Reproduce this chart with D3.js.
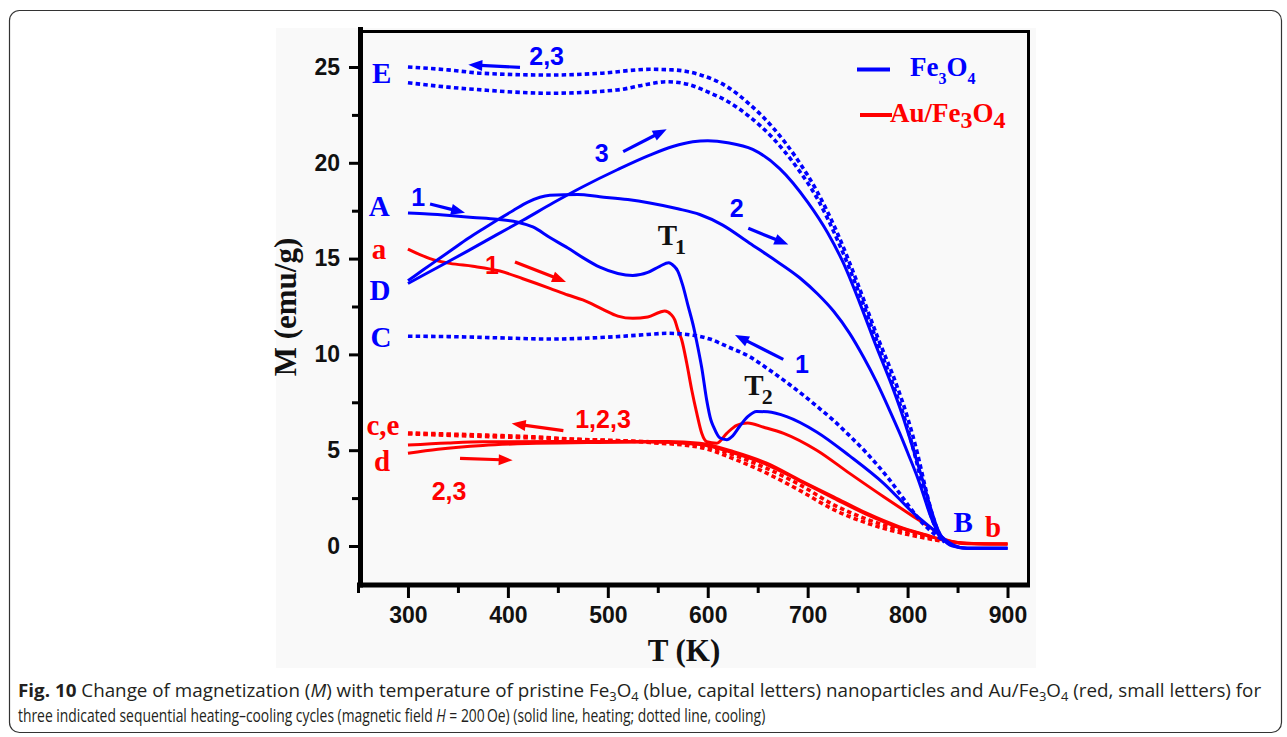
<!DOCTYPE html>
<html>
<head>
<meta charset="utf-8">
<script src="https://cdn.jsdelivr.net/npm/d3@7/dist/d3.min.js"></script>
<style>
  body { margin: 0; background: #ffffff; }
  svg { display: block; }
</style>
</head>
<body>
<svg id="chart" width="1287" height="737"></svg>
<script>
// ---- Magnetization M (emu/g) versus temperature T (K), [T, M] pairs ----
// Fe3O4, cycle 1 heating (A -> T1 -> T2 -> B)
const feHeat1 = [[300,17.38],[320,17.33],[342,17.25],[365,17.15],[389,17.05],[410,16.9],[425,16.65],[442,16.1],
  [460,15.55],[475,15.05],[492,14.55],[510,14.22],[525,14.12],[540,14.28],[552,14.6],[561,14.78],[566,14.62],
  [570,14.35],[575,13.6],[580,12.6],[586,11.4],[590,10.4],[594,9.3],[599,7.6],[603,6.6],[606,6.2],[612,5.65],
  [619,5.55],[625,5.75],[632,6.25],[640,6.75],[649,7.02],[660,7.0],[679,6.75],[709,5.95],[742,4.7],[776,3.27],
  [806,1.71],[826,0.84],[836,0.4],[846,0.05],[859,-0.12],[900,-0.12]];
// Fe3O4, cycle 1 cooling (B -> C)
const feCool1 = [[300,10.95],[350,10.92],[400,10.85],[442,10.8],[500,10.9],[530,11.0],[560,11.1],[585,11.0],
  [602,10.8],[620,10.4],[642,9.88],[660,9.25],[680,8.5],[695,7.9],[709,7.3],[726,6.55],[740,5.85],[759,4.85],
  [782,3.45],[799,2.25],[812,1.36],[826,0.66],[834,0.35]];
// Fe3O4, cycle 2 heating (D -> B)
const feHeat2 = [[300,13.85],[315,14.4],[330,14.95],[345,15.5],[360,16.05],[375,16.55],[389,17.0],[405,17.5],
  [420,17.95],[442,18.3],[470,18.35],[492,18.23],[520,18.08],[542,17.9],[570,17.6],[592,17.3],[615,16.75],
  [642,15.8],[665,15.0],[692,14.0],[710,13.15],[726,12.25],[742,11.1],[756,9.85],[769,8.55],[781,7.2],[792,5.9],
  [801,4.75],[809,3.7],[816,2.65],[822,1.7],[828,0.95],[833,0.5],[840,0.15],[850,-0.05],[860,-0.12],[900,-0.12]];
// Fe3O4, cycle 3 heating (D -> B)
const feHeat3 = [[300,13.7],[330,14.55],[360,15.4],[389,16.25],[415,17.0],[445,17.9],[475,18.75],[510,19.65],
  [542,20.4],[565,20.85],[585,21.1],[600,21.15],[620,21.05],[645,20.7],[672,19.7],[700,17.95],[720,16.35],
  [735,14.85],[752,12.7],[768,10.5],[784,8.4],[795,6.8],[805,5.15],[815,3.45],[823,2.0],[830,0.9],[836,0.35],
  [845,0.0],[860,-0.12],[900,-0.12]];
// Fe3O4, cycles 2 and 3 cooling (B -> E)
const feCool2 = [[300,25.0],[340,24.85],[375,24.67],[442,24.58],[492,24.67],[542,24.88],[565,24.85],[592,24.6],
  [620,23.95],[642,23.05],[665,21.85],[690,20.15],[710,18.45],[730,16.3],[750,13.7],[770,10.9],[789,8.4],
  [800,6.7],[810,4.8],[818,3.0],[825,1.6],[832,0.6],[838,0.2]];
const feCool3 = [[300,24.18],[340,23.95],[375,23.8],[442,23.63],[509,23.8],[540,24.1],[559,24.23],[580,24.1],
  [600,23.7],[620,23.2],[642,22.4],[665,21.3],[690,19.7],[710,18.1],[730,15.95],[750,13.4],[770,10.6],
  [787,8.2],[798,6.5],[808,4.6],[816,2.9],[824,1.5],[831,0.6],[837,0.2]];

// Au/Fe3O4, cycle 1 heating (a -> b)
const auHeat1 = [[300,15.5],[322,15.0],[342,14.75],[365,14.6],[392,14.35],[415,13.95],[442,13.45],[460,13.1],
  [475,12.84],[495,12.35],[510,12.0],[525,11.88],[540,11.95],[552,12.2],[557,12.27],[563,12.1],[567,11.8],
  [570,11.3],[574,10.75],[579,9.54],[584,8.14],[589,6.93],[594,5.88],[599,5.44],[609,5.36],[619,5.88],
  [629,6.3],[640,6.42],[656,6.2],[676,5.88],[709,5.0],[742,3.79],[776,2.57],[806,1.53],[826,0.84],[839,0.31],
  [859,0.14],[900,0.1]];
// Au/Fe3O4, cooling for cycles 1, 2, 3 (b -> c,e)
const auCool1 = [[300,5.9],[375,5.79],[425,5.7],[475,5.55],[542,5.44],[592,5.27],[626,4.75],[659,4.05],
  [692,3.2],[726,2.15],[759,1.4],[792,0.85],[819,0.5],[832,0.3]];
const auCool23 = [[300,5.85],[375,5.72],[450,5.6],[542,5.4],[592,5.15],[626,4.55],[659,3.8],[692,2.9],
  [726,1.9],[759,1.2],[792,0.7],[819,0.4],[834,0.25]];
// Au/Fe3O4, cycles 2 and 3 heating (d -> b)
const auHeat2 = [[300,5.27],[340,5.38],[375,5.44],[450,5.45],[520,5.45],[560,5.45],[592,5.36],[626,4.92],
  [659,4.32],[692,3.44],[726,2.57],[759,1.71],[792,1.0],[819,0.57],[836,0.31],[850,0.18],[870,0.12],[900,0.1]];
const auHeat3 = [[300,4.84],[330,5.05],[375,5.25],[420,5.35],[480,5.4],[540,5.43],[592,5.3],[626,4.85],
  [659,4.25],[692,3.4],[726,2.5],[759,1.65],[792,0.95],[819,0.55],[836,0.3],[860,0.12],[900,0.1]];

// Axis ticks
const xMajorTicks = [300, 400, 500, 600, 700, 800, 900];
const xMinorTicks = [250, 350, 450, 550, 650, 750, 850];
const yMajorTicks = [0, 5, 10, 15, 20, 25];
const yMinorTicks = [2.5, 7.5, 12.5, 17.5, 22.5];

const BLUE = "#0000ff";
const RED = "#ff0000";

const svg = d3.select("#chart");

// card and figure panel
svg.append("rect").attr("x", 9.5).attr("y", 10.5).attr("width", 1272).attr("height", 722)
  .attr("rx", 10).attr("fill", "#ffffff").attr("stroke", "#333333").attr("stroke-width", 1.2);
svg.append("rect").attr("x", 276).attr("y", 28).attr("width", 760).attr("height", 640).attr("fill", "#f9f9f9");

const x = d3.scaleLinear().domain([250, 920]).range([358, 1027.5]);
const y = d3.scaleLinear().domain([-2, 26.9]).range([584.3, 30.6]);

// plot frame: thin top/right, heavy left/bottom axes
const frame = svg.append("g").attr("stroke", "#000").attr("fill", "none");
frame.append("line").attr("x1", 359).attr("x2", 1029).attr("y1", 31.5).attr("y2", 31.5).attr("stroke-width", 3);
frame.append("line").attr("x1", 1028.5).attr("x2", 1028.5).attr("y1", 30).attr("y2", 586).attr("stroke-width", 3);

const tickFont = "'Liberation Sans', Arial, sans-serif";

// y axis
const gyMaj = svg.append("g").attr("transform", "translate(358,0)")
  .call(d3.axisLeft(y).tickValues(yMajorTicks).tickSize(9).tickSizeOuter(0).tickPadding(9).tickFormat(d3.format("d")));
const gyMin = svg.append("g").attr("transform", "translate(358,0)")
  .call(d3.axisLeft(y).tickValues(yMinorTicks).tickSize(6).tickSizeOuter(0).tickFormat(""));
// x axis
const gxMaj = svg.append("g").attr("transform", "translate(0,587)")
  .call(d3.axisBottom(x).tickValues(xMajorTicks).tickSize(11).tickSizeOuter(0).tickPadding(9).tickFormat(d3.format("d")));
const gxMin = svg.append("g").attr("transform", "translate(0,587)")
  .call(d3.axisBottom(x).tickValues(xMinorTicks).tickSize(6).tickSizeOuter(0).tickFormat(""));

[gyMaj, gyMin, gxMaj, gxMin].forEach(g => {
  g.select(".domain").remove();
  g.selectAll(".tick line").attr("stroke", "#000").attr("stroke-width", 3);
  g.selectAll(".tick text").attr("fill", "#111").attr("font-family", tickFont)
    .attr("font-weight", "bold").attr("font-size", 23);
});

frame.append("line").attr("x1", 360.5).attr("x2", 360.5).attr("y1", 27).attr("y2", 587.5).attr("stroke-width", 5);
frame.append("line").attr("x1", 357).attr("x2", 1030).attr("y1", 585).attr("y2", 585).attr("stroke-width", 5);

// axis titles
const serif = "'Liberation Serif', 'Times New Roman', serif";
svg.append("text").attr("x", 684).attr("y", 661).attr("text-anchor", "middle")
  .attr("font-family", serif).attr("font-weight", "bold").attr("font-size", 31).attr("fill", "#111").text("T (K)");
svg.append("text").attr("transform", "translate(296,307) rotate(-90)").attr("text-anchor", "middle")
  .attr("font-family", serif).attr("font-weight", "bold").attr("font-size", 31).attr("fill", "#111").text("M (emu/g)");

// ---- curves ----
const line = d3.line().x(d => x(d[0])).y(d => y(d[1])).curve(d3.curveMonotoneX);
const series = [
  { data: auCool23, color: RED, dotted: true },
  { data: auCool1, color: RED, dotted: true },
  { data: auHeat3, color: RED, dotted: false },
  { data: auHeat2, color: RED, dotted: false },
  { data: auHeat1, color: RED, dotted: false },
  { data: feCool1, color: BLUE, dotted: true },
  { data: feCool3, color: BLUE, dotted: true },
  { data: feCool2, color: BLUE, dotted: true },
  { data: feHeat2, color: BLUE, dotted: false },
  { data: feHeat3, color: BLUE, dotted: false },
  { data: feHeat1, color: BLUE, dotted: false }
];
const plot = svg.append("g");
plot.selectAll("path.curve").data(series).join("path").attr("class", "curve")
  .attr("d", d => line(d.data))
  .attr("fill", "none")
  .attr("stroke", d => d.color)
  .attr("stroke-width", d => d.dotted ? 3.6 : 3)
  .attr("stroke-dasharray", d => d.dotted ? "4.5 3.2" : null)
  .attr("stroke-linejoin", "round");

// ---- annotations (placed in data coordinates) ----
const letterLabels = [
  { t: "E", T: 273.7, M: 24.17, c: BLUE }, { t: "A", T: 271.3, M: 17.22, c: BLUE },
  { t: "D", T: 272, M: 12.84, c: BLUE }, { t: "C", T: 273, M: 10.39, c: BLUE },
  { t: "a", T: 271, M: 14.98, c: RED }, { t: "c,e", T: 275, M: 5.79, c: RED },
  { t: "d", T: 274, M: 3.91, c: RED }, { t: "B", T: 855.5, M: 0.75, c: BLUE },
  { t: "b", T: 885.5, M: 0.48, c: RED }
];
svg.append("g").selectAll("text").data(letterLabels).join("text")
  .attr("x", d => x(d.T)).attr("y", d => y(d.M)).attr("text-anchor", "middle")
  .attr("font-family", serif).attr("font-weight", "bold").attr("font-size", 29)
  .attr("fill", d => d.c).text(d => d.t);

const cycleLabels = [
  { t: "2,3", T: 438.8, M: 25.08, c: BLUE }, { t: "1", T: 310.3, M: 17.77, c: BLUE },
  { t: "3", T: 493.9, M: 20.04, c: BLUE }, { t: "2", T: 628.9, M: 17.17, c: BLUE },
  { t: "1", T: 694.3, M: 9.03, c: BLUE }, { t: "1,2,3", T: 495.2, M: 6.16, c: RED },
  { t: "1", T: 384.1, M: 14.2, c: RED }, { t: "2,3", T: 341.1, M: 2.40, c: RED }
];
svg.append("g").selectAll("text").data(cycleLabels).join("text")
  .attr("x", d => x(d.T)).attr("y", d => y(d.M)).attr("text-anchor", "middle")
  .attr("font-family", tickFont).attr("font-weight", "bold").attr("font-size", 25)
  .attr("fill", d => d.c).text(d => d.t);

// transition markers T1, T2
const transitions = [{ sub: "1", T: 558.9, M: 15.71 }, { sub: "2", T: 645.6, M: 7.88 }];
transitions.forEach(d => {
  const t = svg.append("text").attr("x", x(d.T) - 9).attr("y", y(d.M))
    .attr("font-family", serif).attr("font-weight", "bold").attr("font-size", 29).attr("fill", "#111");
  t.append("tspan").text("T");
  t.append("tspan").attr("dx", -2).attr("dy", 9).attr("font-size", 22).text(d.sub);
});

// direction arrows: [tail T, tail M, head T, head M]
const arrows = [
  { c: BLUE, p: [412.1, 24.98, 360.4, 25.12] },
  { c: BLUE, p: [322.1, 17.85, 357.1, 17.39] },
  { c: BLUE, p: [515.4, 20.58, 558.9, 21.75] },
  { c: BLUE, p: [640.6, 16.58, 680.6, 15.73] },
  { c: BLUE, p: [675.6, 9.74, 627.3, 11.01] },
  { c: RED, p: [407.1, 14.82, 458.2, 13.78] },
  { c: RED, p: [455.5, 6.02, 403.8, 6.39] },
  { c: RED, p: [352.1, 4.57, 404.8, 4.48] }
];
const ag = svg.append("g");
arrows.forEach(a => {
  const x1 = x(a.p[0]), y1 = y(a.p[1]), x2 = x(a.p[2]), y2 = y(a.p[3]);
  const ang = Math.atan2(y2 - y1, x2 - x1);
  const L = 14, W = 5.5;
  const bx = x2 - L * Math.cos(ang), by = y2 - L * Math.sin(ang);
  ag.append("line").attr("x1", x1).attr("y1", y1).attr("x2", bx + 2 * Math.cos(ang)).attr("y2", by + 2 * Math.sin(ang))
    .attr("stroke", a.c).attr("stroke-width", 3.2);
  const pts = [[x2, y2],
    [bx - W * Math.sin(ang), by + W * Math.cos(ang)],
    [bx + W * Math.sin(ang), by - W * Math.cos(ang)]];
  ag.append("path").attr("d", "M" + pts.map(p => p.join(",")).join("L") + "Z").attr("fill", a.c);
});

// ---- legend ----
const lg = svg.append("g").attr("font-family", serif).attr("font-weight", "bold");
lg.append("line").attr("x1", 857).attr("x2", 890).attr("y1", 69.5).attr("y2", 69.5).attr("stroke", BLUE).attr("stroke-width", 4);
const l1 = lg.append("text").attr("x", 910).attr("y", 76).attr("font-size", 27).attr("fill", BLUE);
l1.append("tspan").text("Fe");
l1.append("tspan").attr("dy", 8).attr("font-size", 16).text("3");
l1.append("tspan").attr("dy", -8).text("O");
l1.append("tspan").attr("dy", 8).attr("font-size", 16).text("4");
lg.append("line").attr("x1", 860).attr("x2", 892).attr("y1", 115).attr("y2", 115).attr("stroke", RED).attr("stroke-width", 4);
const l2 = lg.append("text").attr("x", 890).attr("y", 122).attr("font-size", 27).attr("fill", RED);
l2.append("tspan").text("Au/Fe");
l2.append("tspan").attr("dy", 6).attr("font-size", 24).text("3");
l2.append("tspan").attr("dy", -6).text("O");
l2.append("tspan").attr("dy", 6).attr("font-size", 24).text("4");

// ---- caption (each line narrowed horizontally to its measured width) ----
const capFont = "'Open Sans', 'Noto Sans', sans-serif";
function captionLine(yPos, width, parts) {
  const t = svg.append("text").attr("x", 0).attr("y", 0).attr("font-family", capFont)
    .attr("font-size", 17.5).attr("fill", "#231f20");
  parts.forEach(p => {
    const s = t.append("tspan").text(p.text);
    if (p.bold) s.attr("font-weight", "bold");
    if (p.italic) s.attr("font-style", "italic");
    if (p.sub) s.attr("font-size", 12).attr("dy", 4);
    if (p.up) s.attr("dy", -4);
  });
  const natural = t.node().getBBox().width;
  t.attr("transform", `translate(18,${yPos}) scale(${width / natural},1)`);
}
captionLine(697, 1244, [
  { text: "Fig. 10", bold: true },
  { text: " Change of magnetization (" }, { text: "M", italic: true },
  { text: ") with temperature of pristine Fe" }, { text: "3", sub: true }, { text: "O", up: true },
  { text: "4", sub: true }, { text: " (blue, capital letters) nanoparticles and Au/Fe", up: true },
  { text: "3", sub: true }, { text: "O", up: true }, { text: "4", sub: true },
  { text: " (red, small letters) for", up: true }
]);
captionLine(722, 748, [
  { text: "three indicated sequential heating\u2013cooling cycles (magnetic field " },
  { text: "H", italic: true },
  { text: " = 200\u2009Oe) (solid line, heating; dotted line, cooling)" }
]);
</script>
</body>
</html>
